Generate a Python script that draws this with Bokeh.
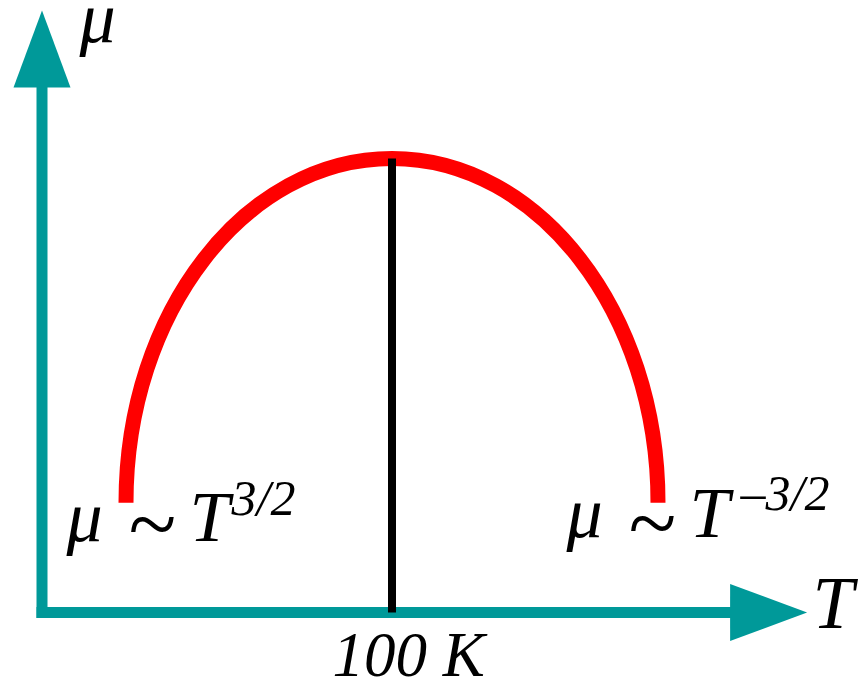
from bokeh.plotting import figure
from bokeh.models import Range1d
from bokeh.embed import file_html
from bokeh.resources import INLINE
from bokeh.core.properties import value

# Carrier mobility vs temperature (schematic): lattice scattering on the
# high-T side, impurity scattering on the low-T side, peak near 100 K.
T_low, T_peak, T_high = 24, 100, 176          # K, ends and top of the curve
mu_edge, mu_peak = 0.242, 1.0                 # mobility, arbitrary units
T_axis_end, mu_axis_end = 218.6, 1.326        # where the axis arrows point
peak_label = "100 K"
left_law = ["μ", "~", "T", "3/2"]
right_law = ["μ", "~", "T", "–3/2"]

TEAL, RED = "#009999", "#FF0000"
FONT = value("Liberation Serif")

# page geometry: origin of the axes on screen and the scales
W, H = 858, 681
X0_PX, Y0_PX = 41.5, 612
PX_PER_K = 3.5
PX_PER_MU = 454.0


def tx(px):
    return (px - X0_PX) / PX_PER_K


def my(py):
    return (Y0_PX - py) / PX_PER_MU


p = figure(width=W, height=H,
           x_range=Range1d(tx(0), tx(W)), y_range=Range1d(my(H), my(0)),
           x_axis_location=None, y_axis_location=None,
           output_backend="svg", toolbar_location=None, min_border=0)
p.grid.visible = False
p.outline_line_color = None
p.background_fill_color = "white"
p.border_fill_color = "white"

# axes with triangular arrow heads
AX_W = 11
HEAD_LEN, HEAD_HALF = 77, 28.5
p.segment(x0=[tx(X0_PX - AX_W / 2)], y0=[0],
          x1=[T_axis_end - (HEAD_LEN - 1) / PX_PER_K], y1=[0],
          line_width=AX_W, line_color=TEAL)
p.segment(x0=[0], y0=[my(Y0_PX + AX_W / 2)],
          x1=[0], y1=[mu_axis_end - (HEAD_LEN - 1) / PX_PER_MU],
          line_width=AX_W, line_color=TEAL)
p.patch([T_axis_end, T_axis_end - HEAD_LEN / PX_PER_K, T_axis_end - HEAD_LEN / PX_PER_K],
        [0, HEAD_HALF / PX_PER_MU, -HEAD_HALF / PX_PER_MU],
        fill_color=TEAL, line_color=None)
p.patch([0, -HEAD_HALF / PX_PER_K, HEAD_HALF / PX_PER_K],
        [mu_axis_end, mu_axis_end - HEAD_LEN / PX_PER_MU, mu_axis_end - HEAD_LEN / PX_PER_MU],
        fill_color=TEAL, line_color=None)

# mobility curve: two quarter-ellipse Bezier pieces meeting at the peak
k = 0.5523
rise = mu_edge + k * (mu_peak - mu_edge)
p.bezier(x0=[T_low, T_peak], y0=[mu_edge, mu_peak],
         x1=[T_peak, T_high], y1=[mu_peak, mu_edge],
         cx0=[T_low, T_peak + k * (T_high - T_peak)], cy0=[rise, mu_peak],
         cx1=[T_peak - k * (T_peak - T_low), T_high], cy1=[mu_peak, rise],
         line_color=RED, line_width=15)

# marker of the peak temperature
p.segment(x0=[T_peak], y0=[0], x1=[T_peak], y1=[mu_peak],
          line_color="black", line_width=8)


def label(xs_px, ys_px, texts, size):
    # ys_px are the wanted baselines; the renderer sets text a bit lower,
    # so lift each line by a fraction of its size
    lift = 0.35 * size
    p.text(x=[tx(v) for v in xs_px], y=[my(v - lift) for v in ys_px], text=texts,
           text_font=FONT, text_font_style="italic", text_font_size=f"{size}px",
           text_color="black", text_align="left", text_baseline="alphabetic")


# axis names and the peak temperature
label([79], [43], ["μ"], 72)
label([812], [628], ["T"], 74)
label([332], [677], [peak_label], 63)

# power laws on either side (the tilde set larger, as a relation sign)
label([66, 189], [542, 542], [left_law[0], left_law[2]], 72)
label([127], [555], [left_law[1]], 88)
label([231], [515], [left_law[3]], 50)
label([566, 689], [538, 538], [right_law[0], right_law[2]], 72)
label([627], [554], [right_law[1]], 88)
label([740], [510], [right_law[3]], 50)

open("out.html", "w").write(file_html(p, INLINE))
